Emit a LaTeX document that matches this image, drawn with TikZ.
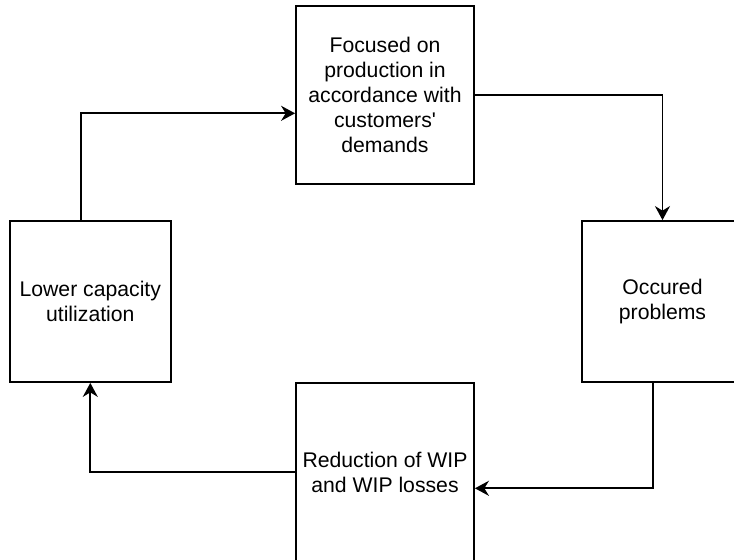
\documentclass[tikz,border=0pt]{standalone}
\usepackage{fontspec}
\setmainfont{Liberation Sans}
\usetikzlibrary{arrows.meta}

\begin{document}
\begin{tikzpicture}[
  x=0.5pt, y=-0.5pt,
  phase/.style={rectangle, draw, line width=0.9pt, inner sep=0pt, align=center,
                font=\fontsize{10.6pt}{12.5pt}\selectfont, fill=white},
  big/.style={minimum width=89pt, minimum height=89pt},
  small/.style={minimum width=80.5pt, minimum height=80.5pt},
  arrow/.style={-{Stealth[length=7pt, width=7.5pt]}, line width=0.9pt}
]
\useasboundingbox (0,0) rectangle (734,559);
\clip (0,0) rectangle (734,559);

%% Four phases of the cycle
\node[phase, big]   at (385,95)    (focus)    {Focused on\\production in\\accordance with\\customers\textquotesingle\\demands};
\node[phase, small] at (662.5,301.5) (problems) {Occured\\problems};
\node[phase, big]   at (385,472)   (reduction) {Reduction of WIP\\and WIP losses};
\node[phase, small] at (90.3,301.5)  (lower)    {Lower capacity\\utilization};

%% Arrows
\draw[arrow] (focus.east) -| (problems.north);
\draw[arrow] ([xshift=-4.6pt]problems.south) |- ([yshift=-8.15pt]reduction.east);
\draw[arrow] (reduction.west) -| (lower.south);
\draw[arrow] ([xshift=-4.65pt]lower.north) |- ([yshift=-9.15pt]focus.west);
\end{tikzpicture}
\end{document}
